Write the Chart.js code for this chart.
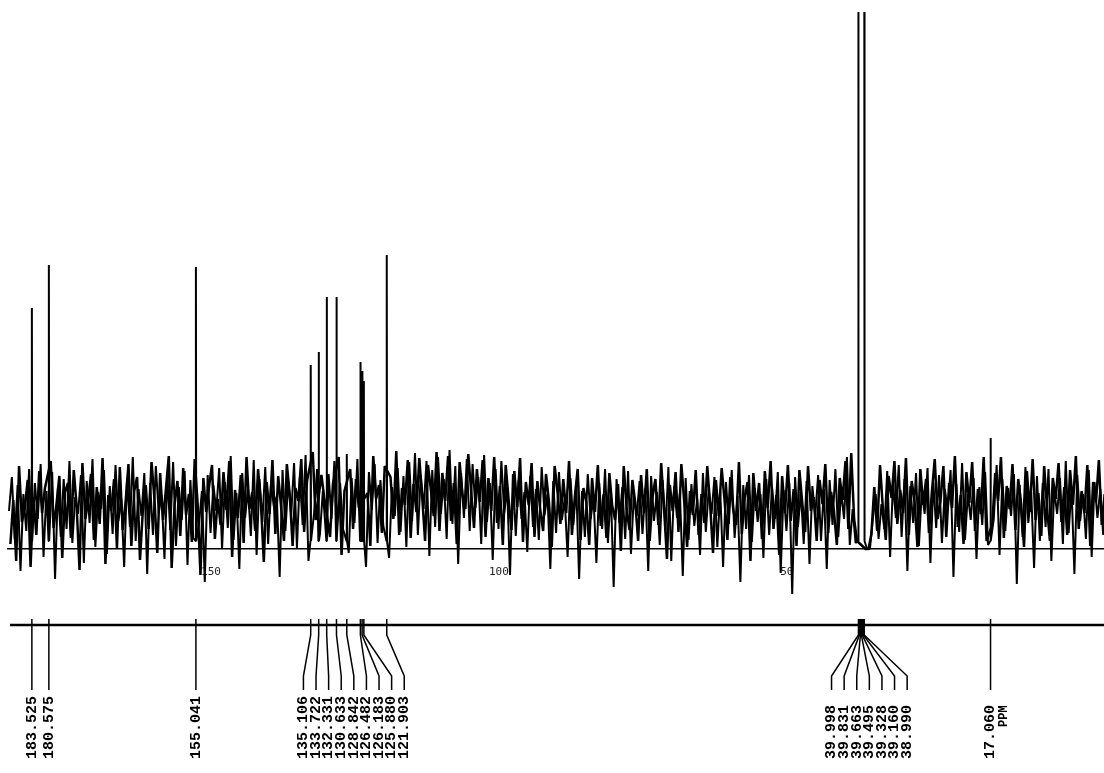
<!DOCTYPE html>
<html>
<head>
<meta charset="utf-8">
<title>13C NMR spectrum</title>
<script src="https://cdn.jsdelivr.net/npm/chart.js@4.4.1/dist/chart.umd.min.js"></script>
<style>
  html, body { margin: 0; padding: 0; background: #ffffff; }
  #wrap { width: 1104px; height: 773px; position: relative; }
</style>
</head>
<body>
<div id="wrap"><canvas id="spec" width="1104" height="773"></canvas></div>
<script>
// Chemical shifts of the picked peaks (ppm)
const peakPpm = [183.525, 180.575, 155.041,
  135.106, 133.722, 132.331, 130.633, 128.842, 126.482, 126.183, 125.880, 121.903,
  39.998, 39.831, 39.663, 39.495, 39.328, 39.160, 38.990,
  17.060];

// Peak heights above the baseline (plot units)
const peakHeight = [241, 284, 282,
  184, 197, 252, 252, 95, 187, 178, 168, 294,
  700, 1000, 1300, 1400, 1300, 1000, 700,
  111];

// Printed peak list text
const peakLabels = peakPpm.map(v => v.toFixed(3));

// Baseline noise of the recorder trace: noiseA every 0.5 ppm from 187.5 ppm,
// noiseB (second pen pass) every 0.5 ppm from 187.25 ppm
const noiseStart = 187.5;
const noiseStep = 0.5;
const noiseA = [
  38, 72, 10, 64, -22, 55, 18, 80, 4, 66, 30, 85, -8, 58, 24, 77, -30, 61, 12, 70,
  20, 88, 6, 52, 35, 74, -14, 68, 26, 90, 2, 57, 40, 79, -5, 63, 15, 84, 28, 50,
  -18, 71, 22, 92, 8, 60, 33, 76, -25, 66, 14, 83, 36, 54, -10, 73, 19, 87, 3, 62,
  29, 78, -16, 69, 11, 86, 25, 58, -33, 74, 16, 64, 38, 81, 0, 67, 21, 93, 9, 56,
  -20, 76, 31, 60, 13, 89, -6, 70, 27, 82, 5, 65, 42, 53, -28, 79, 18, 68, 34, 86,
  1, 72, 24, 94, -12, 63, 37, 80, 15, 58, -24, 75, 30, 88, 8, 66, 20, 84, -4, 71,
  26, 90, 12, 61, -18, 77, 39, 85, 6, 69, 23, 95, -9, 62, 33, 81, 17, 73, 2, 87,
  28, 96, 14, 74, 40, 88, -7, 79, 22, 92, 35, 70, 10, 99, 25, 83, -15, 76, 31, 90,
  18, 85, 41, 72, 5, 94, 27, 66, -11, 80, 20, 88, 36, 62, -26, 75, 13, 69, 30, 57,
  -3, 73, 22, 60, 9, 82, 34, 55, -20, 68, 16, 77, 29, 50, -8, 71, 24, 64, -30, 58,
  12, 75, 30, 52, -14, 66, 20, 80, 6, 59, -38, 70, 26, 62, 10, 78, -5, 54, 33, 68,
  15, 61, -22, 73, 28, 57, 4, 69, 19, 82, -12, 63, 31, 56, -27, 71, 9, 65, 23, 50,
  -6, 76, 17, 60, 35, 72, 2, 58, -18, 67, 25, 79, 11, 53, -33, 64, 20, 74, 7, 61,
  27, 55, -9, 70, 14, 62, 30, 77, -24, 59, 18, 66, -45, 72, 22, 57, 5, 68, -15, 63,
  33, 74, 8, 60, -20, 69, 24, 80, 12, 58, 30, 92, 4, 40, 6, 12, 2, 0, 0, 0,
  30, 55, 10, 45, 20, 78, -8, 66, 31, 84, 12, 70, -22, 63, 26, 76, 3, 58, 35, 81,
  -14, 67, 21, 74, 6, 60, 38, 79, -28, 65, 17, 86, 9, 55, 29, 71, -10, 62, 24, 77,
  4, 68, 30, 84, -6, 70, 18, 61, 33, 75, -35, 64, 12, 82, 26, 57, -19, 73, 8, 66,
  22, 80, -12, 59, 35, 71, 5, 88, 16, 62, -25, 74, 28, 55, 10, 79, -8, 67, 31, 60, 14, 70
];
const noiseB = [
  5, 49, -12, 83, 27, 41, 69, -18, 52, 14, 78, 36, 61, 2, 88, 21, 45, 73, -9, 57,
  66, 11, 79, 43, -21, 86, 30, 48, 75, 9, 62, 25, 91, -15, 54, 38, 70, 1, 82, 19,
  47, 85, 3, 58, 72, -11, 39, 64, 20, 87, 51, -4, 76, 29, 60, 93, -19, 44, 68, 13,
  81, 34, 55, 7, 90, 46, -26, 71, 37, 63, 84, 10, 50, 24, 77, 39, 88, -8, 59, 31,
  74, 6, 92, 40, 57, 18, 80, 45, -13, 67, 35, 89, 15, 73, 42, 8, 85, 55, 3, 61,
  48, 90, 17, 68, 43, 97, 29, 4, 74, 51, 86, 12, 65, 39, 92, -6, 58, 33, 80, 20,
  70, 41, 88, 27, 56, 3, 93, 50, 64, 16, 83, 45, 72, 30, 98, 14, 61, 44, 89, 11,
  65, 37, 91, 52, 8, 84, 60, 33, 97, 18, 76, 48, 93, 28, 66, 5, 87, 54, 40, 95,
  58, 21, 80, 47, 89, 12, 71, 38, 92, 26, 63, 4, 84, 50, 19, 78, 42, 91, 7, 67,
  44, 86, 12, 68, 39, 18, 75, 48, 2, 83, 57, 25, 70, 36, 88, 14, 52, 80, 9, 61,
  47, 4, 71, 37, 84, 23, 55, 11, 76, 43, 29, 65, -2, 83, 40, 19, 69, 46, 8, 74,
  36, 80, 8, 52, 70, 24, 86, 41, -10, 64, 38, 77, 17, 85, 47, 2, 58, 34, 79, 14,
  55, 26, 83, 44, -4, 69, 33, 81, 49, 9, 72, 40, 24, 87, 15, 51, 67, -12, 76, 38,
  66, 10, 78, 41, 88, 20, 54, -6, 73, 36, 84, 28, 60, 3, 79, 46, 17, 83, 38, 52,
  8, 69, 45, 85, 16, 57, 38, 4, 71, 49, 88, 20, 96, 30, 8, 4, 0, 0, 0, 15,
  62, 18, 84, 40, 9, 73, 51, 88, 25, 59, 36, 91, 14, 68, 47, 2, 80, 44, 70, 16,
  57, 90, 30, 48, 83, 12, 66, 41, 93, 22, 54, 5, 77, 46, 87, 18, 60, 35, 92, 8,
  53, 25, 76, 48, 92, 11, 63, 40, 85, 19, 70, 45, 2, 78, 37, 90, 29, 56, 13, 83,
  41, 8, 71, 50, 86, 27, 62, 14, 79, 44, 93, 20, 58, 36, 84, 3, 67, 47, 89, 24, 55
];

// Scale labels on the spectrum axis
const axisTicks = [150, 100, 50];

// ---- assemble the recorder traces ----
const peakZone = 0.2;
function noisePoints(values, start) {
  const pts = [];
  values.forEach((v, i) => {
    const x = start - i * noiseStep;
    const nearPeak = peakPpm.some(p => Math.abs(p - x) < peakZone) ||
      (x < 40.2 && x > 38.8);
    if (!nearPeak) pts.push({ x: x, y: v });
  });
  return pts;
}
// main pass: noise with the peaks inserted
const traceMain = noisePoints(noiseA, noiseStart);
peakPpm.forEach((p, i) => {
  const prev = i > 0 ? peakPpm[i - 1] : Infinity;
  const next = i < peakPpm.length - 1 ? peakPpm[i + 1] : -Infinity;
  if (prev - p > 0.25) traceMain.push({ x: p + 0.05, y: 8 });
  traceMain.push({ x: p, y: peakHeight[i] });
  if (p - next > 0.25) traceMain.push({ x: p - 0.05, y: 8 });
});
traceMain.sort((a, b) => b.x - a.x);
// second pass: noise only
const traceSecond = noisePoints(noiseB, noiseStart - noiseStep / 2);

// ---- printed peak list below the spectrum ----
const RULER_Y = 625;
const LABEL_GAP = 12.6;
const LABEL_SHIFT = 8;

function layoutLabels(xs) {
  let clusters = xs.map((x, i) => ({ idx: [i], center: x }));
  let merged = true;
  while (merged) {
    merged = false;
    for (let i = 0; i < clusters.length - 1; i++) {
      const a = clusters[i], b = clusters[i + 1];
      const aRight = a.center + (a.idx.length - 1) / 2 * LABEL_GAP;
      const bLeft = b.center - (b.idx.length - 1) / 2 * LABEL_GAP;
      if (bLeft - aRight < LABEL_GAP) {
        const idx = a.idx.concat(b.idx);
        const center = idx.reduce((s, j) => s + xs[j], 0) / idx.length;
        clusters.splice(i, 2, { idx: idx, center: center });
        merged = true;
        break;
      }
    }
  }
  const out = [];
  clusters.forEach(c => {
    if (c.idx.length === 1) { out[c.idx[0]] = xs[c.idx[0]]; return; }
    const mid = c.center + LABEL_SHIFT;
    c.idx.forEach((j, k) => { out[j] = mid + (k - (c.idx.length - 1) / 2) * LABEL_GAP; });
  });
  return out;
}

const peakListPlugin = {
  id: 'peakList',
  afterDraw(chart) {
    const ctx = chart.ctx;
    const sx = chart.scales.x;
    const tickX = peakPpm.map(p => sx.getPixelForValue(p));
    const labelX = layoutLabels(tickX);

    ctx.save();
    ctx.strokeStyle = '#000';
    ctx.fillStyle = '#000';

    // ruler line
    ctx.lineWidth = 2.4;
    ctx.beginPath();
    ctx.moveTo(10, RULER_Y);
    ctx.lineTo(1104, RULER_Y);
    ctx.stroke();

    // leader lines
    ctx.lineWidth = 1.5;
    tickX.forEach((tx, i) => {
      const lx = labelX[i];
      ctx.beginPath();
      ctx.moveTo(tx, RULER_Y - 6);
      if (Math.abs(lx - tx) < 0.5) {
        ctx.lineTo(tx, 690);
      } else {
        ctx.lineTo(tx, RULER_Y + 10);
        ctx.lineTo(lx, 676);
        ctx.lineTo(lx, 690);
      }
      ctx.stroke();
    });

    // shift values, written bottom-to-top
    ctx.font = 'bold 15px "Liberation Mono", "DejaVu Sans Mono", monospace';
    ctx.textAlign = 'left';
    ctx.textBaseline = 'middle';
    peakLabels.forEach((t, i) => {
      ctx.save();
      ctx.translate(labelX[i], 759);
      ctx.rotate(-Math.PI / 2);
      ctx.fillText(t, 0, 0);
      ctx.restore();
    });

    // unit next to the last value
    const last = labelX[labelX.length - 1];
    ctx.font = 'bold 12px "Liberation Mono", "DejaVu Sans Mono", monospace';
    ctx.save();
    ctx.translate(last + 13, 727);
    ctx.rotate(-Math.PI / 2);
    ctx.fillText('PPM', 0, 0);
    ctx.restore();

    ctx.restore();
  }
};

const penStyle = {
  borderColor: '#000000',
  borderJoinStyle: 'bevel',
  pointRadius: 0,
  tension: 0,
  fill: false
};

new Chart(document.getElementById('spec').getContext('2d'), {
  type: 'line',
  data: {
    datasets: [
      Object.assign({ data: traceMain, borderWidth: 2 }, penStyle),
      Object.assign({ data: traceSecond, borderWidth: 2.5 }, penStyle)
    ]
  },
  options: {
    responsive: false,
    animation: false,
    devicePixelRatio: 1,
    layout: { padding: { left: 8, right: 0, top: 12, bottom: 0 } },
    plugins: { legend: { display: false }, tooltip: { enabled: false } },
    scales: {
      x: {
        type: 'linear',
        reverse: true,
        min: -2.64,
        max: 187.67,
        position: { y: 0 },
        grid: { display: false, drawTicks: false },
        border: { display: true, color: '#000', width: 1.5 },
        afterBuildTicks: axis => { axis.ticks = axisTicks.map(v => ({ value: v })); },
        ticks: {
          padding: 17,
          labelOffset: -14,
          color: '#222',
          font: { family: '"DejaVu Sans Mono", monospace', size: 11 },
          maxRotation: 0,
          callback: v => String(v)
        }
      },
      y: { display: false, min: -224, max: 537 }
    }
  },
  plugins: [peakListPlugin]
});
</script>
</body>
</html>
